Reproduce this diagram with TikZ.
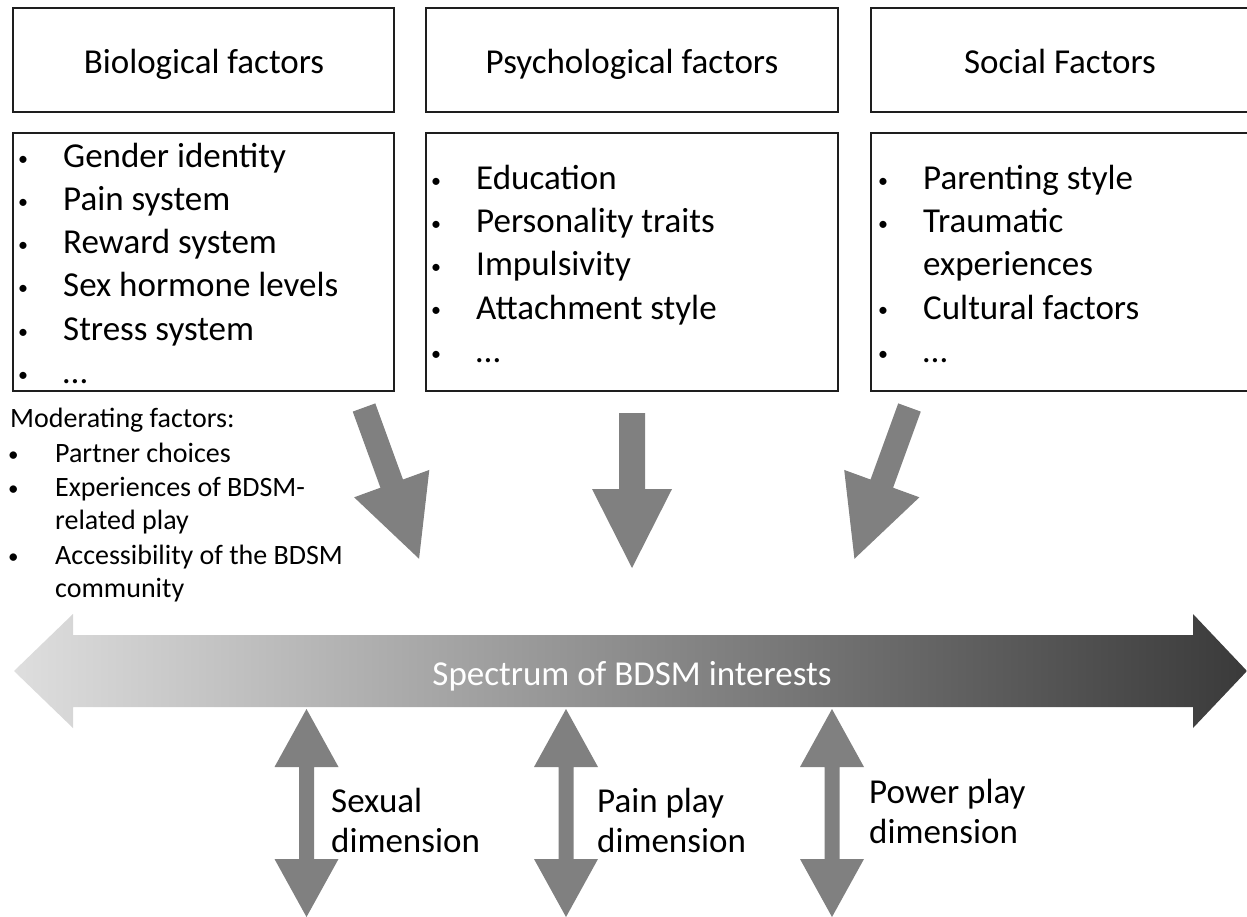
\documentclass[tikz,border=0pt]{standalone}
\usepackage{fontspec}
\setmainfont{Carlito}

\newcommand{\itemdot}{\makebox[45pt][l]{\fontsize{20}{20}\selectfont\raisebox{2pt}{•}}}
\newcommand{\moddot}{\makebox[47pt][l]{\fontsize{21}{21}\selectfont\raisebox{1pt}{•}}}

\begin{document}
\begin{tikzpicture}[x=1pt,y=1pt,yscale=-1,xscale=1,
  factorbox/.style={draw={rgb,255:red,30;green,30;blue,30}, line width=1.4},
  blockarrow/.style={fill={rgb,255:red,128;green,128;blue,128}, draw=none},
  headtext/.style={font=\fontsize{35}{42}\selectfont, inner sep=0pt, anchor=base},
  itemtext/.style={font=\fontsize{35}{42}\selectfont, inner sep=0pt, anchor=base west},
  modtext/.style={font=\fontsize{28}{34}\selectfont, inner sep=0pt, anchor=base west}]
\useasboundingbox (0,0) rectangle (1247,917);

%Shape: Rectangle (headers)
\draw[factorbox] (13,8) rectangle (394,112) ;
\draw[factorbox] (426,8) rectangle (838,112) ;
\draw[factorbox] (871,8) rectangle (1249,112) ;
%Shape: Rectangle (lists)
\draw[factorbox] (13,133) rectangle (394,391) ;
\draw[factorbox] (426,133) rectangle (838,391) ;
\draw[factorbox] (871,133) rectangle (1249,391) ;

% Text Node
\node[headtext] (biohead) at (204,74) {Biological factors};
\node[headtext] (psyhead) at (632,74) {Psychological factors};
\node[headtext] (sochead) at (1060,74) {Social Factors};

% Text Node
\node[itemtext] (bio1) at (18,168) {\itemdot Gender identity};
\node[itemtext] (bio2) at (18,211) {\itemdot Pain system};
\node[itemtext] (bio3) at (18,254) {\itemdot Reward system};
\node[itemtext] (bio4) at (18,297) {\itemdot Sex hormone levels};
\node[itemtext] (bio5) at (18,340) {\itemdot Stress system};
\node[itemtext] (bio6) at (18,383) {\itemdot \dots};

% Text Node
\node[itemtext] (psy1) at (431,190) {\itemdot Education};
\node[itemtext] (psy2) at (431,233) {\itemdot Personality traits};
\node[itemtext] (psy3) at (431,276) {\itemdot Impulsivity};
\node[itemtext] (psy4) at (431,319) {\itemdot Attachment style};
\node[itemtext] (psy5) at (431,362) {\itemdot \dots};

% Text Node
\node[itemtext] (soc1) at (878,190) {\itemdot Parenting style};
\node[itemtext] (soc2) at (878,233) {\itemdot Traumatic};
\node[itemtext] (soc3) at (923,276) {experiences};
\node[itemtext] (soc4) at (878,319) {\itemdot Cultural factors};
\node[itemtext] (soc5) at (878,362) {\itemdot \dots};

% Text Node
\node[modtext] (modhead) at (10,427) {Moderating factors:};
\node[modtext] (mod1) at (8,462) {\moddot Partner choices};
\node[modtext] (mod2) at (8,496) {\moddot Experiences of BDSM-};
\node[modtext] (mod3) at (55,529) {related play};
\node[modtext] (mod4) at (8,564) {\moddot Accessibility of the BDSM};
\node[modtext] (mod5) at (55,597) {community};

%Shape: Arrow (into the spectrum)
\fill[blockarrow, shift={(364,407.5)}, rotate=-20] (-12,0) -- (12,0) -- (12,81) -- (40,81) -- (0,161) -- (-40,81) -- (-12,81) -- cycle ;
\fill[blockarrow, shift={(632,413)}] (-13,0) -- (13,0) -- (13,76) -- (40,76) -- (0,155) -- (-40,76) -- (-13,76) -- cycle ;
\fill[blockarrow, shift={(909.5,407.5)}, rotate=20] (-12,0) -- (12,0) -- (12,81) -- (40,81) -- (0,161) -- (-40,81) -- (-12,81) -- cycle ;

%Shape: Left Right Arrow
\shade[left color={rgb,255:red,222;green,222;blue,222}, right color={rgb,255:red,58;green,58;blue,58}] (14,671) -- (73,614) -- (73,635) -- (1193,635) -- (1193,614) -- (1247,671) -- (1193,728) -- (1193,707) -- (73,707) -- (73,728) -- cycle ;
\node[headtext, text=white] (spectrum) at (632,685) {Spectrum of BDSM interests};

%Shape: Up Down Arrow
\fill[blockarrow, shift={(306.5,0)}] (0,709) -- (32,767) -- (7.5,767) -- (7.5,859) -- (32,859) -- (0,917) -- (-32,859) -- (-7.5,859) -- (-7.5,767) -- (-32,767) -- cycle ;
\fill[blockarrow, shift={(566,0)}] (0,709) -- (32,767) -- (7.5,767) -- (7.5,859) -- (32,859) -- (0,917) -- (-32,859) -- (-7.5,859) -- (-7.5,767) -- (-32,767) -- cycle ;
\fill[blockarrow, shift={(832,0)}] (0,709) -- (32,767) -- (7.5,767) -- (7.5,859) -- (32,859) -- (0,917) -- (-32,859) -- (-7.5,859) -- (-7.5,767) -- (-32,767) -- cycle ;

% Text Node
\node[itemtext] (sexual) at (331,812) {Sexual};
\node[itemtext] (sexdim) at (331,852) {dimension};
\node[itemtext] (pain) at (597,812) {Pain play};
\node[itemtext] (paindim) at (597,852) {dimension};
\node[itemtext] (power) at (869,803) {Power play};
\node[itemtext] (powerdim) at (869,843) {dimension};

\end{tikzpicture}
\end{document}
